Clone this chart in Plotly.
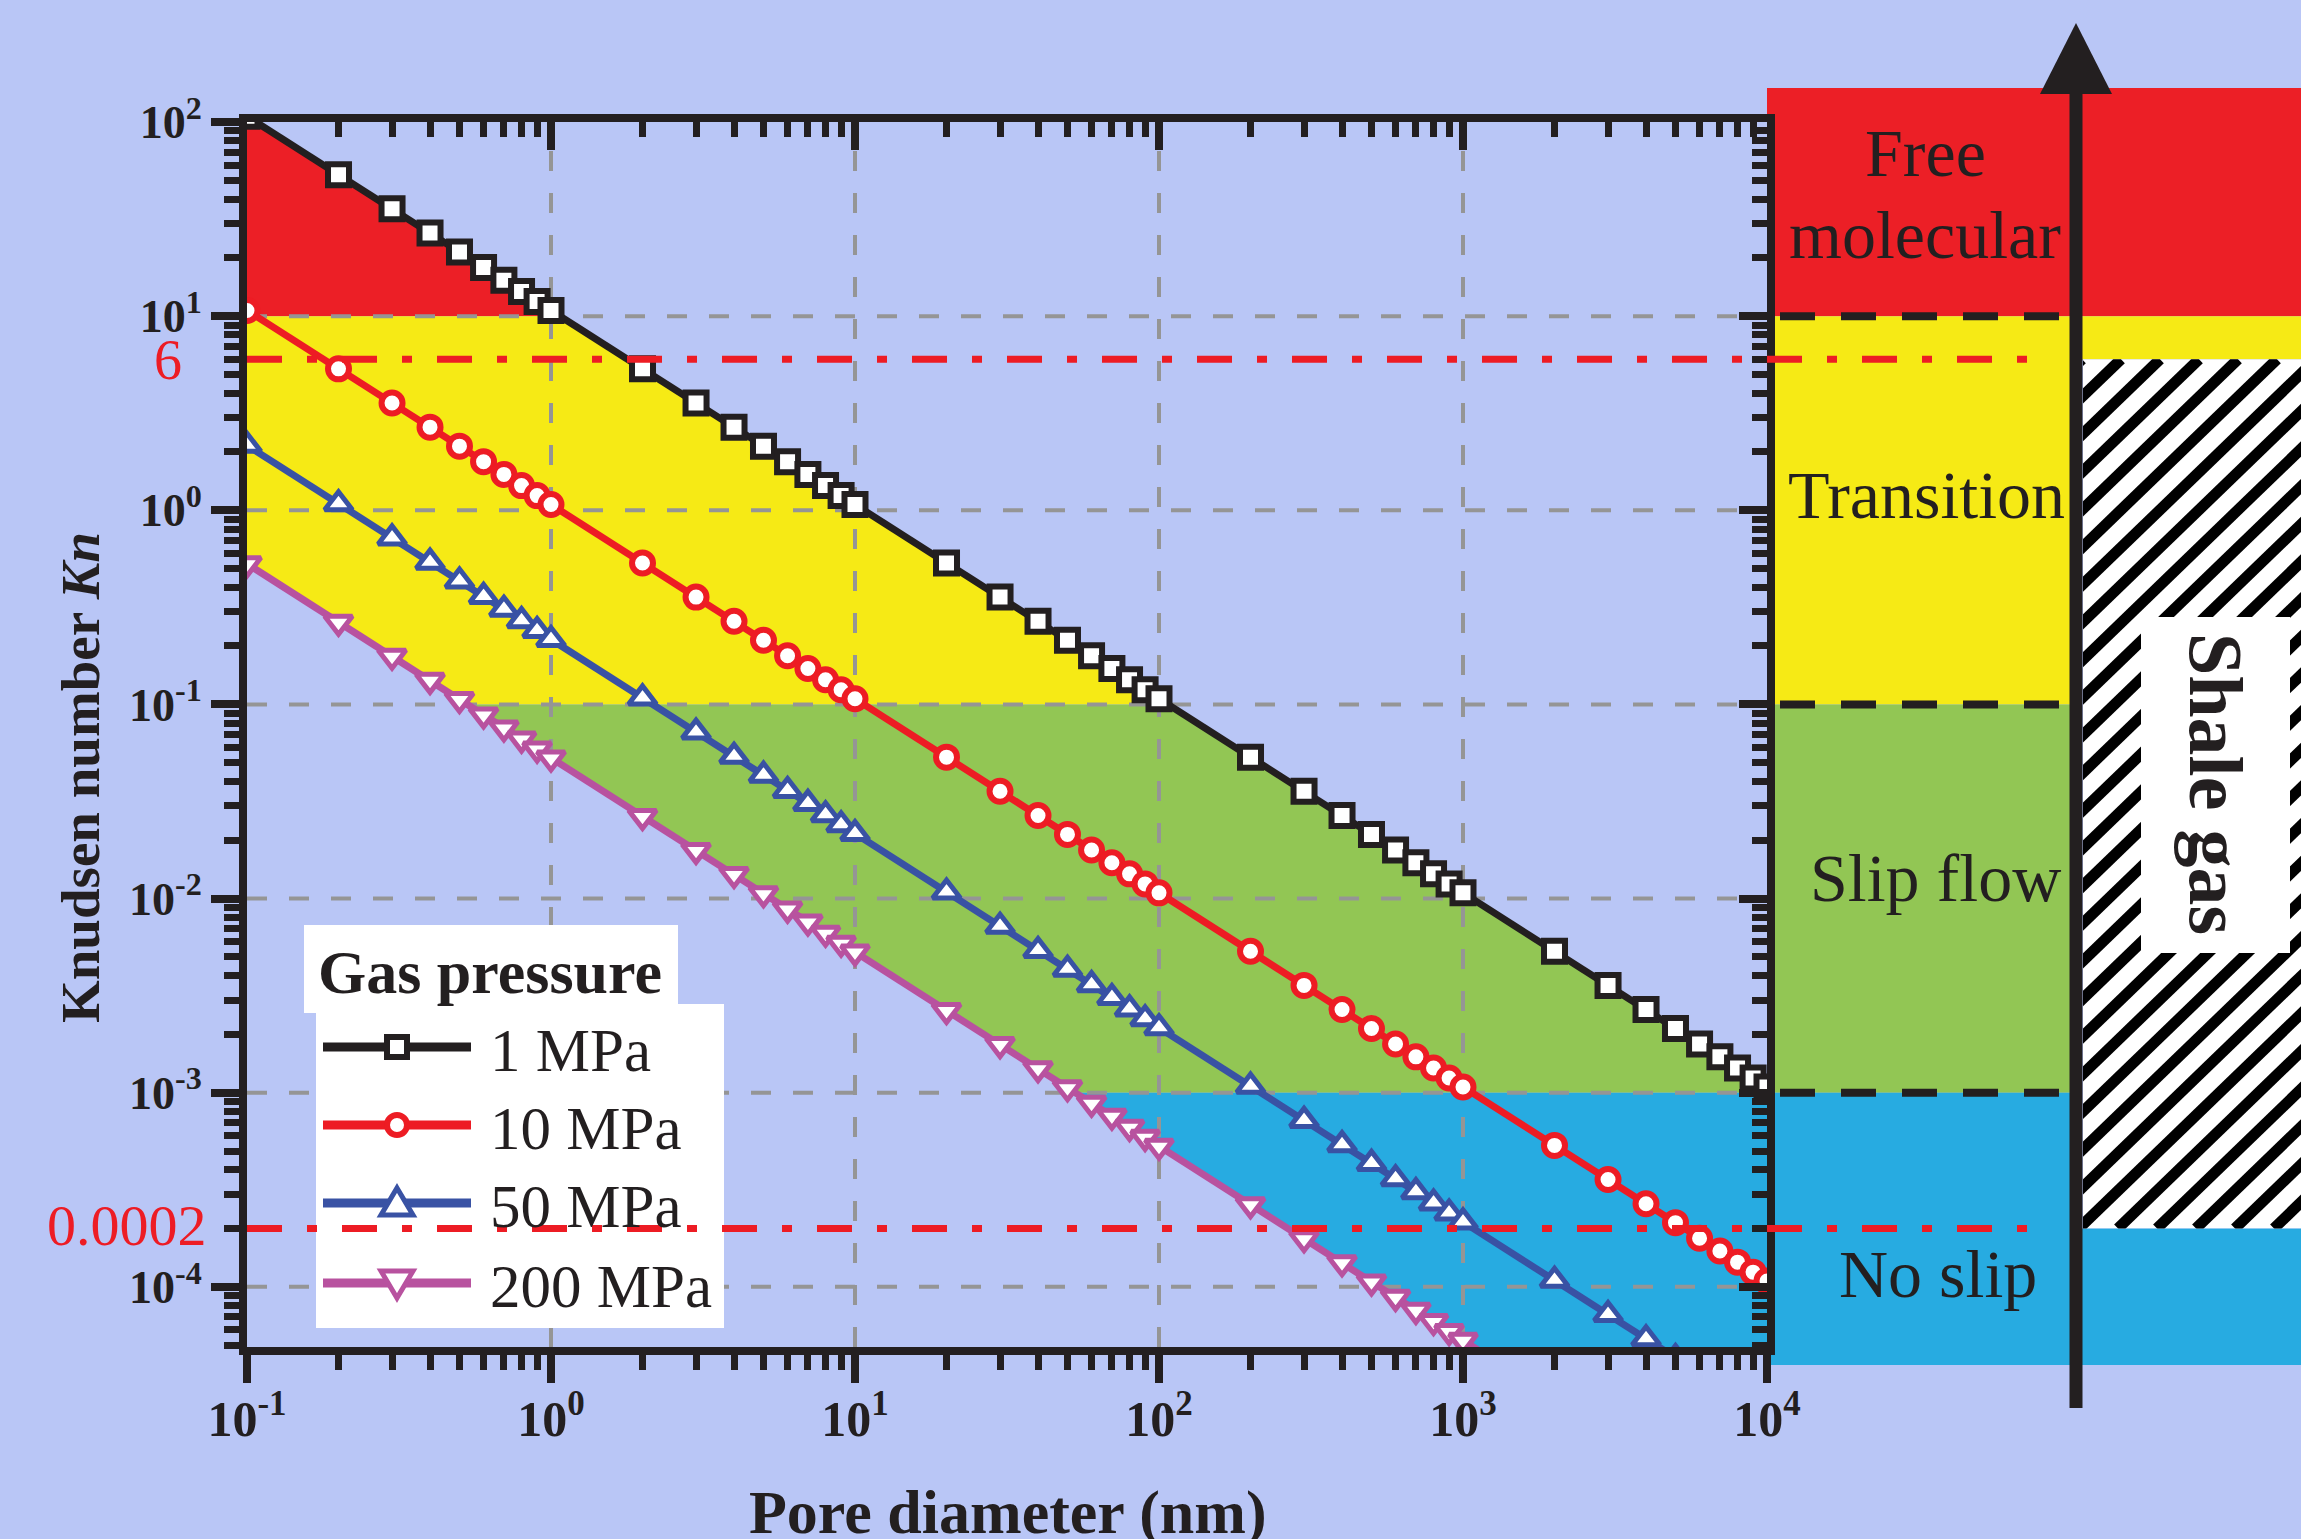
import numpy as np
import plotly.graph_objects as go

# ---------------- data ----------------
pore_diameter_nm = [0.1, 0.2, 0.3, 0.4, 0.5, 0.6, 0.7, 0.8, 0.9,
                    1, 2, 3, 4, 5, 6, 7, 8, 9,
                    10, 20, 30, 40, 50, 60, 70, 80, 90,
                    100, 200, 300, 400, 500, 600, 700, 800, 900,
                    1000, 2000, 3000, 4000, 5000, 6000, 7000, 8000, 9000,
                    10000]

kn_1MPa = [107, 53.5, 35.7, 26.8, 21.4, 17.8, 15.3, 13.4, 11.9,
           10.7, 5.35, 3.57, 2.68, 2.14, 1.78, 1.53, 1.34, 1.19,
           1.07, 0.535, 0.357, 0.268, 0.214, 0.178, 0.153, 0.134, 0.119,
           0.107, 0.0535, 0.0357, 0.0268, 0.0214, 0.0178, 0.0153, 0.0134, 0.0119,
           0.0107, 0.00535, 0.00357, 0.00268, 0.00214, 0.00178, 0.00153, 0.00134, 0.00119,
           0.00107]

kn_10MPa = [10.7, 5.35, 3.57, 2.68, 2.14, 1.78, 1.53, 1.34, 1.19,
            1.07, 0.535, 0.357, 0.268, 0.214, 0.178, 0.153, 0.134, 0.119,
            0.107, 0.0535, 0.0357, 0.0268, 0.0214, 0.0178, 0.0153, 0.0134, 0.0119,
            0.0107, 0.00535, 0.00357, 0.00268, 0.00214, 0.00178, 0.00153, 0.00134, 0.00119,
            0.00107, 5.35e-4, 3.57e-4, 2.68e-4, 2.14e-4, 1.78e-4, 1.53e-4, 1.34e-4, 1.19e-4,
            1.07e-4]

kn_50MPa = [2.16, 1.08, 0.72, 0.54, 0.432, 0.36, 0.309, 0.27, 0.24,
            0.216, 0.108, 0.072, 0.054, 0.0432, 0.036, 0.0309, 0.027, 0.024,
            0.0216, 0.0108, 0.0072, 0.0054, 0.00432, 0.0036, 0.00309, 0.0027, 0.0024,
            0.00216, 0.00108, 7.2e-4, 5.4e-4, 4.32e-4, 3.6e-4, 3.09e-4, 2.7e-4, 2.4e-4,
            2.16e-4, 1.08e-4, 7.2e-5, 5.4e-5, 4.32e-5, 3.6e-5, 3.09e-5, 2.7e-5, 2.4e-5,
            2.16e-5]

kn_200MPa = [0.53, 0.265, 0.177, 0.133, 0.106, 0.0883, 0.0757, 0.0663, 0.0589,
             0.053, 0.0265, 0.0177, 0.0133, 0.0106, 0.00883, 0.00757, 0.00663, 0.00589,
             0.0053, 0.00265, 0.00177, 0.00133, 0.00106, 8.83e-4, 7.57e-4, 6.63e-4, 5.89e-4,
             5.3e-4, 2.65e-4, 1.77e-4, 1.33e-4, 1.06e-4, 8.83e-5, 7.57e-5, 6.63e-5, 5.89e-5,
             5.3e-5, 2.65e-5, 1.77e-5, 1.33e-5, 1.06e-5, 8.83e-6, 7.57e-6, 6.63e-6, 5.89e-6,
             5.3e-6]

series_names = ["1 MPa", "10 MPa", "50 MPa", "200 MPa"]
legend_title = "Gas pressure"

# flow-regime boundaries (Kn)
regime_names = ["Free molecular", "Transition", "Slip flow", "No slip"]
regime_upper = [1e3, 10, 0.1, 0.001]
regime_lower = [10, 0.1, 0.001, 1e-6]
shale_gas_kn = [6, 0.0002]
shale_gas_labels = ["6", "0.0002"]
shale_gas_label = "Shale gas"

x_tickvals = [0.1, 1, 10, 100, 1000, 10000]
x_ticktext = ["10<sup>-1</sup>", "10<sup>0</sup>", "10<sup>1</sup>",
              "10<sup>2</sup>", "10<sup>3</sup>", "10<sup>4</sup>"]
y_tickvals = [1e-4, 1e-3, 1e-2, 1e-1, 1, 10, 100]
y_ticktext = ["10<sup>-4</sup>", "10<sup>-3</sup>", "10<sup>-2</sup>", "10<sup>-1</sup>",
              "10<sup>0</sup>", "10<sup>1</sup>", "10<sup>2</sup>"]
x_title = "Pore diameter (nm)"
y_title = "Knudsen number <i>Kn</i>"

# ---------------- styling ----------------
W, H = 2301, 1539
BG = "#B9C6F6"
INK = "#231F20"
FONT = "Liberation Serif"
REGIME_COLORS = ["#EC1F26", "#F6EA15", "#92C654", "#27ABE1"]
SERIES_COLORS = [INK, "#ED1C24", "#3952A4", "#B8529F"]
SYMBOLS = ["square", "circle", "triangle-up", "triangle-down"]
SIZES = [21, 21, 24, 24]
MLW = [6, 6, 5, 5]
GRID = "#959595"

X_L, X_R = 247, 1767        # plot area in pixels
Y_T, Y_B = 122, 1347
LOG_XMIN, LOG_XMAX = -1, 4
LOG_YMIN, LOG_YMAX = -4.31, 2


def fx(px):
    return px / W


def fy(py):
    return 1 - py / H


def kn2py(kn):
    return Y_T + (LOG_YMAX - np.log10(kn)) / (LOG_YMAX - LOG_YMIN) * (Y_B - Y_T)


# ---------------- regime fill polygons ----------------
lx = np.log10(pore_diameter_nm)
lb = np.log10(kn_1MPa)
lp = np.log10(kn_200MPa)


def band(lo, hi):
    llo, lhi = np.log10(lo), np.log10(hi)
    xs = set(lx.tolist())
    for curve in (lb, lp):
        for lev in (llo, lhi):
            for i in range(len(lx) - 1):
                a, b = curve[i] - lev, curve[i + 1] - lev
                if a * b < 0:
                    t = a / (a - b)
                    xs.add(lx[i] + t * (lx[i + 1] - lx[i]))
    xs = np.array(sorted(xs))
    upper = np.minimum(lhi, np.interp(xs, lx, lb))
    lower = np.maximum(llo, np.interp(xs, lx, lp))
    m = upper >= lower - 1e-9
    xs, upper, lower = xs[m], upper[m], lower[m]
    px = np.concatenate([xs, xs[::-1], xs[:1]])
    py = np.concatenate([upper, lower[::-1], upper[:1]])
    return 10 ** px, 10 ** py


fig = go.Figure()

for lo, hi, col in zip(regime_lower, regime_upper, REGIME_COLORS):
    bx, by = band(lo, hi)
    fig.add_trace(go.Scatter(x=bx, y=by, mode="lines", fill="toself", fillcolor=col,
                             line=dict(width=0, color=col), hoverinfo="skip", showlegend=False))

# grid (drawn above the fills)
for xv in x_tickvals[1:-1]:
    fig.add_trace(go.Scatter(x=[xv, xv], y=[10 ** LOG_YMIN, 10 ** LOG_YMAX], mode="lines",
                             line=dict(color=GRID, width=4, dash="20px,22px"),
                             hoverinfo="skip", showlegend=False))
for yv in y_tickvals[:-1]:
    fig.add_trace(go.Scatter(x=[10 ** LOG_XMIN, 10 ** LOG_XMAX], y=[yv, yv], mode="lines",
                             line=dict(color=GRID, width=4, dash="20px,22px"),
                             hoverinfo="skip", showlegend=False))

# data series
for name, ys, col, sym, sz, mlw in zip(series_names, [kn_1MPa, kn_10MPa, kn_50MPa, kn_200MPa],
                                       SERIES_COLORS, SYMBOLS, SIZES, MLW):
    fig.add_trace(go.Scatter(x=pore_diameter_nm, y=ys, name=name, mode="lines+markers",
                             line=dict(color=col, width=7),
                             marker=dict(symbol=sym, size=sz, color="white",
                                         line=dict(color=col, width=mlw)),
                             showlegend=False))

# dummy trace for the mirrored (top/right) axes
fig.add_trace(go.Scatter(x=[1], y=[1], xaxis="x2", yaxis="y2", mode="markers",
                         marker=dict(opacity=0), hoverinfo="skip", showlegend=False))

# hatched "shale gas" strip: its own subplot, axis units = pixels
ARROW_X = 2076
HATCH_L = ARROW_X + 7
hatch_top, hatch_bot = kn2py(shale_gas_kn[0]), kn2py(shale_gas_kn[1])
hw, hh = W - HATCH_L, hatch_bot - hatch_top
fig.add_trace(go.Scatter(x=[0, hw, hw, 0, 0], y=[0, 0, hh, hh, 0], xaxis="x3", yaxis="y3",
                         mode="lines", fill="toself", fillcolor="white", line=dict(width=0),
                         hoverinfo="skip", showlegend=False))
ang = np.deg2rad(44)
run = hh / np.tan(ang)
sx, sy = [], []
c = -run - 40
while c < hw + 40:
    sx += [c, c + run, None]
    sy += [0, hh, None]
    c += 39
fig.add_trace(go.Scatter(x=sx, y=sy, xaxis="x3", yaxis="y3", mode="lines",
                         line=dict(color="black", width=11), hoverinfo="skip", showlegend=False))

shapes = []
# ----- right-hand regime panel -----
PANEL_L, PANEL_R = X_R, W + 5
PANEL_TOP, PANEL_BOT = 88, 1365


def rect(x0, x1, y0, y1, color, layer="below", line=None):
    return dict(type="rect", xref="paper", yref="paper", x0=fx(x0), x1=fx(x1),
                y0=fy(y1), y1=fy(y0), fillcolor=color, layer=layer,
                line=line if line else dict(width=0))


tops = [PANEL_TOP, kn2py(10), kn2py(0.1), kn2py(0.001)]
bots = [kn2py(10), kn2py(0.1), kn2py(0.001), PANEL_BOT]
for t, b, c in zip(tops, bots, REGIME_COLORS):
    shapes.append(rect(PANEL_L, ARROW_X, t, b, c))
shapes.append(rect(ARROW_X, PANEL_R, PANEL_TOP, kn2py(10), REGIME_COLORS[0]))
shapes.append(rect(ARROW_X, PANEL_R, kn2py(10), hatch_top, REGIME_COLORS[1]))
shapes.append(rect(ARROW_X, PANEL_R, hatch_bot, PANEL_BOT, REGIME_COLORS[3]))

# ----- legend -----
shapes.append(rect(304, 678, 925, 1013, "white", layer="above"))
shapes.append(rect(316, 724, 1004, 1328, "white", layer="above"))
leg_y = [1047, 1125, 1203, 1283]
LX0, LX1, LXM = 323, 471, 397
for i, (yy, col) in enumerate(zip(leg_y, SERIES_COLORS)):
    shapes.append(dict(type="line", xref="paper", yref="paper", x0=fx(LX0), x1=fx(LX1),
                       y0=fy(yy), y1=fy(yy), line=dict(color=col, width=9), layer="above"))
    if i == 0:
        shapes.append(dict(type="rect", xref="paper", yref="paper", x0=fx(LXM - 10), x1=fx(LXM + 10),
                           y0=fy(yy + 10), y1=fy(yy - 10), fillcolor="white",
                           line=dict(color=col, width=6), layer="above"))
    elif i == 1:
        shapes.append(dict(type="circle", xref="paper", yref="paper", x0=fx(LXM - 10), x1=fx(LXM + 10),
                           y0=fy(yy + 10), y1=fy(yy - 10), fillcolor="white",
                           line=dict(color=col, width=6), layer="above"))
    else:
        s = 1 if i == 2 else -1
        pts = [(LXM, yy - s * 15), (LXM + 16, yy + s * 12), (LXM - 16, yy + s * 12)]
        path = "M " + " L ".join(f"{fx(a):.6f},{fy(b):.6f}" for a, b in pts) + " Z"
        shapes.append(dict(type="path", xref="paper", yref="paper", path=path,
                           fillcolor="white", line=dict(color=col, width=5), layer="above"))

# ----- red dash-dot reference lines (Kn = 6 and 0.0002) -----
for kv in shale_gas_kn:
    yy = kn2py(kv)
    shapes.append(dict(type="line", xref="paper", yref="paper", x0=fx(X_L), x1=fx(2041),
                       y0=fy(yy), y1=fy(yy),
                       line=dict(color="#ED1C24", width=7, dash="35px,25px,10px,25px"),
                       layer="above"))

# ----- black dashed regime boundaries in the panel -----
for kv in regime_lower[:3]:
    yy = kn2py(kv)
    shapes.append(dict(type="line", xref="paper", yref="paper", x0=fx(1780), x1=fx(2062),
                       y0=fy(yy), y1=fy(yy),
                       line=dict(color=INK, width=8, dash="35px,26px"), layer="above"))

# ----- arrow -----
shapes.append(dict(type="line", xref="paper", yref="paper", x0=fx(ARROW_X), x1=fx(ARROW_X),
                   y0=fy(1408), y1=fy(92), line=dict(color=INK, width=13), layer="above"))
apath = (f"M {fx(ARROW_X):.6f},{fy(23):.6f} L {fx(ARROW_X + 36):.6f},{fy(94):.6f} "
         f"L {fx(ARROW_X - 36):.6f},{fy(94):.6f} Z")
shapes.append(dict(type="path", xref="paper", yref="paper", path=apath, fillcolor=INK,
                   line=dict(width=0), layer="above"))

# ----- shale gas label box -----
shapes.append(rect(2141, 2290, 617, 953, "white", layer="above"))

annotations = []


def ann(text, x, y, size, color=INK, xanchor="center", yanchor="middle", angle=0, bold=False):
    annotations.append(dict(text=text, x=fx(x), y=fy(y), xref="paper", yref="paper",
                            xanchor=xanchor, yanchor=yanchor, textangle=angle, showarrow=False,
                            font=dict(family=FONT, size=size, color=color,
                                      weight="bold" if bold else "normal")))


# panel labels
free_word, mol_word = regime_names[0].split(" ")
ann(free_word, 1925, 153, 68)
ann(mol_word, 1925, 235, 68)
ann(regime_names[1], 1926, 495, 68)
ann(regime_names[2], 1935, 878, 68)
ann(regime_names[3], 1938, 1274, 68)
ann(shale_gas_label, 2216, 784, 76, angle=90, bold=True)

# legend text
ann(legend_title, 316, 972, 62, xanchor="left", bold=True)
for yy, nm in zip(leg_y, series_names):
    ann(nm, 488, yy + 3, 61, xanchor="left")

# red reference labels
ann(shale_gas_labels[0], 184, kn2py(shale_gas_kn[0]) + 1, 56, color="#ED1C24", xanchor="right")
ann(shale_gas_labels[1], 209, kn2py(shale_gas_kn[1]) - 3, 58, color="#ED1C24", xanchor="right")

# axis titles
ann(x_title, 1008, 1512, 62, bold=True)
ann(y_title, 80, 778, 55, angle=-90, bold=True)

tick_common = dict(showline=True, linecolor=INK, linewidth=8, tickcolor=INK, tickwidth=8,
                   ticklen=28, showgrid=False, zeroline=False, automargin=False)

fig.update_layout(
    width=W, height=H,
    margin=dict(l=0, r=0, t=0, b=0, pad=0, autoexpand=False),
    paper_bgcolor=BG, plot_bgcolor=BG,
    showlegend=False,
    xaxis=dict(type="log", range=[LOG_XMIN, LOG_XMAX], domain=[fx(X_L), fx(X_R)], anchor="y",
               ticks="outside", tickmode="array", tickvals=x_tickvals, ticktext=x_ticktext,
               tickfont=dict(family=FONT, size=50, color=INK, weight="bold"),
               ticklabelstandoff=-7,
               minor=dict(ticks="outside", ticklen=15, tickwidth=7, tickcolor=INK,
                          dtick="D1", showgrid=False),
               **tick_common),
    yaxis=dict(type="log", range=[LOG_YMIN, LOG_YMAX], domain=[fy(Y_B), fy(Y_T)], anchor="x",
               ticks="outside", tickmode="array", tickvals=y_tickvals, ticktext=y_ticktext,
               tickfont=dict(family=FONT, size=46, color=INK, weight="bold"),
               minor=dict(ticks="outside", ticklen=15, tickwidth=7, tickcolor=INK,
                          dtick="D1", showgrid=False),
               **tick_common),
    xaxis2=dict(type="log", range=[LOG_XMIN, LOG_XMAX], overlaying="x", side="top", anchor="y",
                ticks="inside", tickmode="array", tickvals=x_tickvals, showticklabels=False,
                minor=dict(ticks="inside", ticklen=15, tickwidth=7, tickcolor=INK,
                           dtick="D1", showgrid=False),
                **tick_common),
    yaxis2=dict(type="log", range=[LOG_YMIN, LOG_YMAX], overlaying="y", side="right", anchor="x",
                ticks="inside", tickmode="array", tickvals=y_tickvals, showticklabels=False,
                minor=dict(ticks="inside", ticklen=15, tickwidth=7, tickcolor=INK,
                           dtick="D1", showgrid=False),
                **tick_common),
    xaxis3=dict(domain=[fx(HATCH_L), 1], range=[0, hw], visible=False, anchor="y3",
                fixedrange=True, automargin=False),
    yaxis3=dict(domain=[fy(hatch_bot), fy(hatch_top)], range=[0, hh], visible=False, anchor="x3",
                fixedrange=True, automargin=False),
    shapes=shapes,
    annotations=annotations,
)

fig.write_html("out.html")
